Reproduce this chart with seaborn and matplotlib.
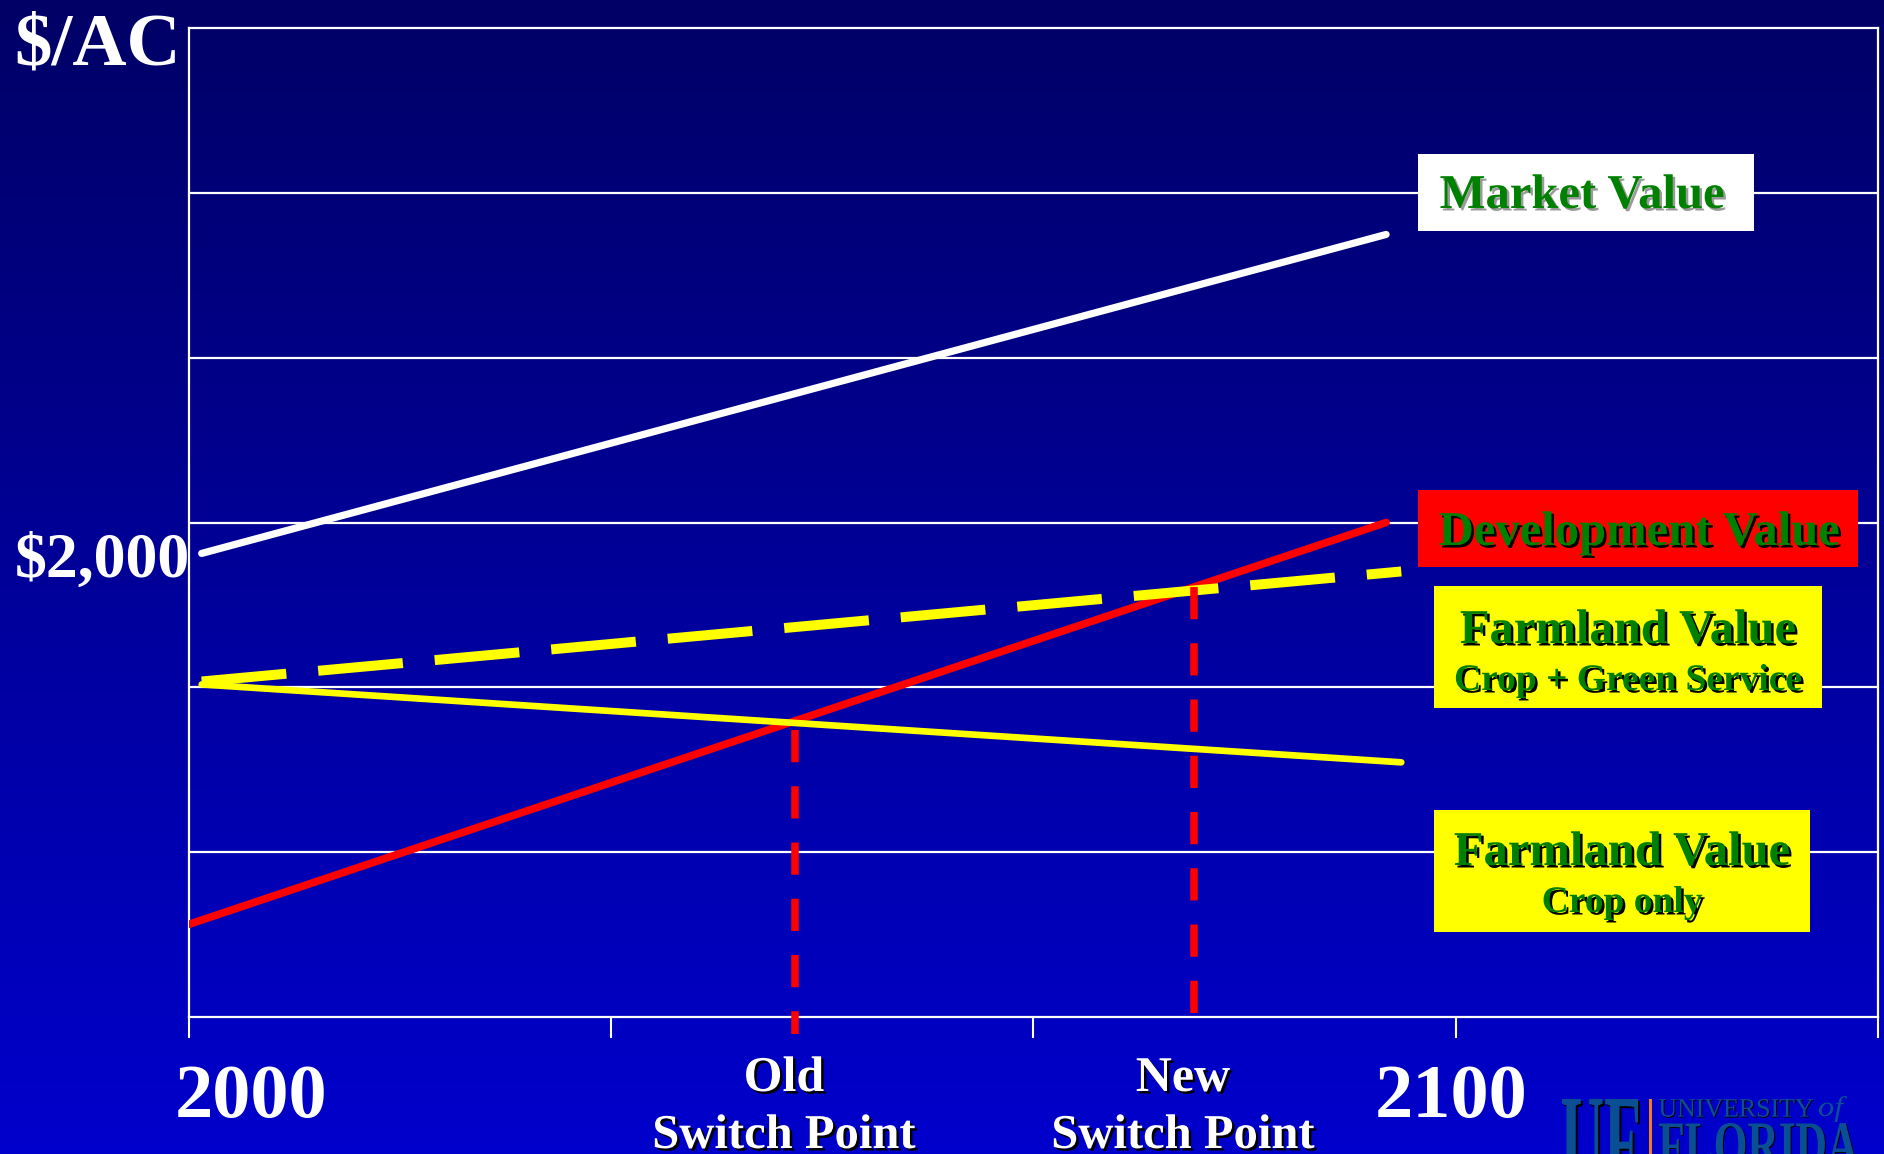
import numpy as np
import pandas as pd
import matplotlib
matplotlib.use("Agg")
import matplotlib.pyplot as plt
import matplotlib.patheffects as pe
import matplotlib.transforms as mtransforms
from matplotlib.patches import Rectangle, PathPatch
from matplotlib.textpath import TextPath
from matplotlib.font_manager import FontProperties
import seaborn as sns

# ---- values ($ per acre over time) ----
market_year = [2001.0, 2094.5]
market_value = [1875, 3165]

dev_year = [2000.0, 2094.5]
dev_value = [375, 2000]

green_year = [2001.0, 2095.7]
green_value = [1357, 1802]

crop_year = [2001.0, 2095.7]
crop_value = [1345, 1030]

switch_names = ["Old", "New"]
switch_year = [2047.8, 2079.3]
switch_top = [1160, 1741]
switch_bottom = [-69, 0]

x_ticks = [2000, 2000 + 100 / 3, 2000 + 200 / 3, 2100, 2000 + 400 / 3]
y_grid = [2000 / 3 * k for k in range(1, 6)]

W, H = 1884, 1154
sns.set_theme(style="white")
plt.rcParams["font.family"] = ["Liberation Serif", "DejaVu Serif"]

fig = plt.figure(figsize=(W / 100, H / 100), dpi=100)


def fx(x):
    return x / W


def fy(y):
    return 1 - y / H


# vertical navy-to-blue gradient background
bg = fig.add_axes([0, 0, 1, 1], zorder=-10)
t = np.linspace(0, 1, 256).reshape(-1, 1)
grad = np.dstack([np.zeros_like(t), np.zeros_like(t), 0.40 + 0.40 * t])
bg.imshow(grad, aspect="auto", extent=[0, 1, 0, 1], origin="upper")
bg.set_axis_off()

ax = fig.add_axes([fx(189), fy(1017), fx(1878) - fx(189), fy(28) - fy(1017)])
ax.set_facecolor("none")
ax.set_xlim(2000, 2000 + 400 / 3)
ax.set_ylim(0, 4000)

for yv in y_grid:
    ax.axhline(yv, color="white", lw=1.6, zorder=1)
for s in ax.spines.values():
    s.set_color("white")
    s.set_linewidth(1.6)
    s.set_visible(True)

ax.set_xticks(x_ticks)
ax.set_xticklabels([])
ax.set_yticks([])
ax.tick_params(axis="x", direction="out", length=15, width=1.5, color="white", bottom=True)

# series
sns.lineplot(x=dev_year, y=dev_value, ax=ax, color="#ff0000", lw=5.5, zorder=3)
sns.lineplot(x=crop_year, y=crop_value, ax=ax, color="#ffff00", lw=4.8, zorder=4)
sns.lineplot(x=green_year, y=green_value, ax=ax, color="#ffff00", lw=7.2,
             linestyle=(0, (8.5, 3.2)), zorder=4)
sns.lineplot(x=market_year, y=market_value, ax=ax, color="white", lw=5.2, zorder=4)

# switch points
for yr, top, bot in zip(switch_year, switch_top, switch_bottom):
    sw = pd.DataFrame({"year": [yr, yr], "value": [top, bot]})
    sns.lineplot(data=sw, x="year", y="value", ax=ax, color="#ff0000", lw=5.4,
                 linestyle=(0, (4.3, 3.2)), zorder=5, clip_on=False,
                 sort=False, estimator=None)
ax.set_xlabel("")
ax.set_ylabel("")

bold = dict(family=["Liberation Serif", "DejaVu Serif"], weight="bold")
shadow_k = [pe.SimplePatchShadow(offset=(1.8, -1.8), shadow_rgbFace="black", alpha=1.0), pe.Normal()]
shadow_g = [pe.SimplePatchShadow(offset=(1.8, -1.8), shadow_rgbFace="#9a9a9a", alpha=1.0), pe.Normal()]

# axis texts
fig.text(fx(14), fy(65), "$/AC", color="white", fontsize=54, va="baseline", ha="left", **bold)
fig.text(fx(15), fy(577), "$2,000", color="white", fontsize=46, va="baseline", ha="left", **bold)
fig.text(fx(175), fy(1117), "2000", color="white", fontsize=55, va="baseline", ha="left", **bold)
fig.text(fx(1375), fy(1117), "2100", color="white", fontsize=55, va="baseline", ha="left", **bold)

for name, cx in zip(switch_names, [784, 1183]):
    fig.text(fx(cx), fy(1091), name, color="white", fontsize=36, ha="center",
             va="baseline", path_effects=shadow_k, **bold)
    fig.text(fx(cx), fy(1148), "Switch Point", color="white", fontsize=35, ha="center",
             va="baseline", path_effects=shadow_k, **bold)


# labelled boxes
def box(x0, y0, x1, y1, fc):
    fig.add_artist(Rectangle((fx(x0), fy(y1)), fx(x1) - fx(x0), fy(y0) - fy(y1),
                             transform=fig.transFigure, facecolor=fc, edgecolor="none",
                             zorder=10))


green = "#008000"
box(1418, 154, 1754, 231, "white")
fig.text(fx(1582), fy(208), "Market Value", color=green, fontsize=35, ha="center",
         va="baseline", path_effects=shadow_g, zorder=11, **bold)

box(1418, 490, 1858, 567, "#ff0000")
fig.text(fx(1639), fy(545), "Development Value", color=green, fontsize=35, ha="center",
         va="baseline", path_effects=shadow_k, zorder=11, **bold)

box(1434, 586, 1822, 708, "#ffff00")
fig.text(fx(1628), fy(643), "Farmland Value", color=green, fontsize=35, ha="center",
         va="baseline", path_effects=shadow_k, zorder=11, **bold)
fig.text(fx(1628), fy(690), "Crop + Green Service", color=green, fontsize=27, ha="center",
         va="baseline", path_effects=shadow_k, zorder=11, **bold)

box(1434, 810, 1810, 932, "#ffff00")
fig.text(fx(1622), fy(865), "Farmland Value", color=green, fontsize=35, ha="center",
         va="baseline", path_effects=shadow_k, zorder=11, **bold)
fig.text(fx(1622), fy(912), "Crop only", color=green, fontsize=27, ha="center",
         va="baseline", path_effects=shadow_k, zorder=11, **bold)


# university wordmark, partly below the lower edge (drawn as fitted glyph outlines)
def fitted_text(s, x0, y_top, width, height, color, fp, shadow=None):
    tp = TextPath((0, 0), s, size=100, prop=fp)
    bb = tp.get_extents()
    tr = (mtransforms.Affine2D().translate(-bb.x0, -bb.y1)
          .scale(width / bb.width, height / bb.height).translate(x0, H - y_top))
    if shadow is not None:
        sh = tr + mtransforms.Affine2D().translate(shadow[0], -shadow[1])
        fig.add_artist(PathPatch(tp, transform=sh, fc="black", ec="none", zorder=11))
    fig.add_artist(PathPatch(tp, transform=tr, fc=color, ec="none", zorder=12))


uf_blue = "#0a4f94"
fp_bold = FontProperties(family="Liberation Serif", weight="bold")
fp_reg = FontProperties(family="Liberation Serif")
fp_it = FontProperties(family="Liberation Serif", style="italic")
fitted_text("UF", 1562, 1099, 76, 88, uf_blue, fp_bold, shadow=(2, 2))
fig.add_artist(Rectangle((fx(1649), 0), fx(3), fy(1099), transform=fig.transFigure,
                         facecolor="#f47a20", edgecolor="none", zorder=10))
fitted_text("UNIVERSITY", 1659, 1099, 154, 18, uf_blue, fp_reg, shadow=(1, 1))
fitted_text("of", 1819, 1096, 28, 26, uf_blue, fp_it)
fitted_text("FLORIDA", 1659, 1123, 199, 44, uf_blue, fp_bold, shadow=(1, 1))

fig.savefig("out.png", dpi=100)
